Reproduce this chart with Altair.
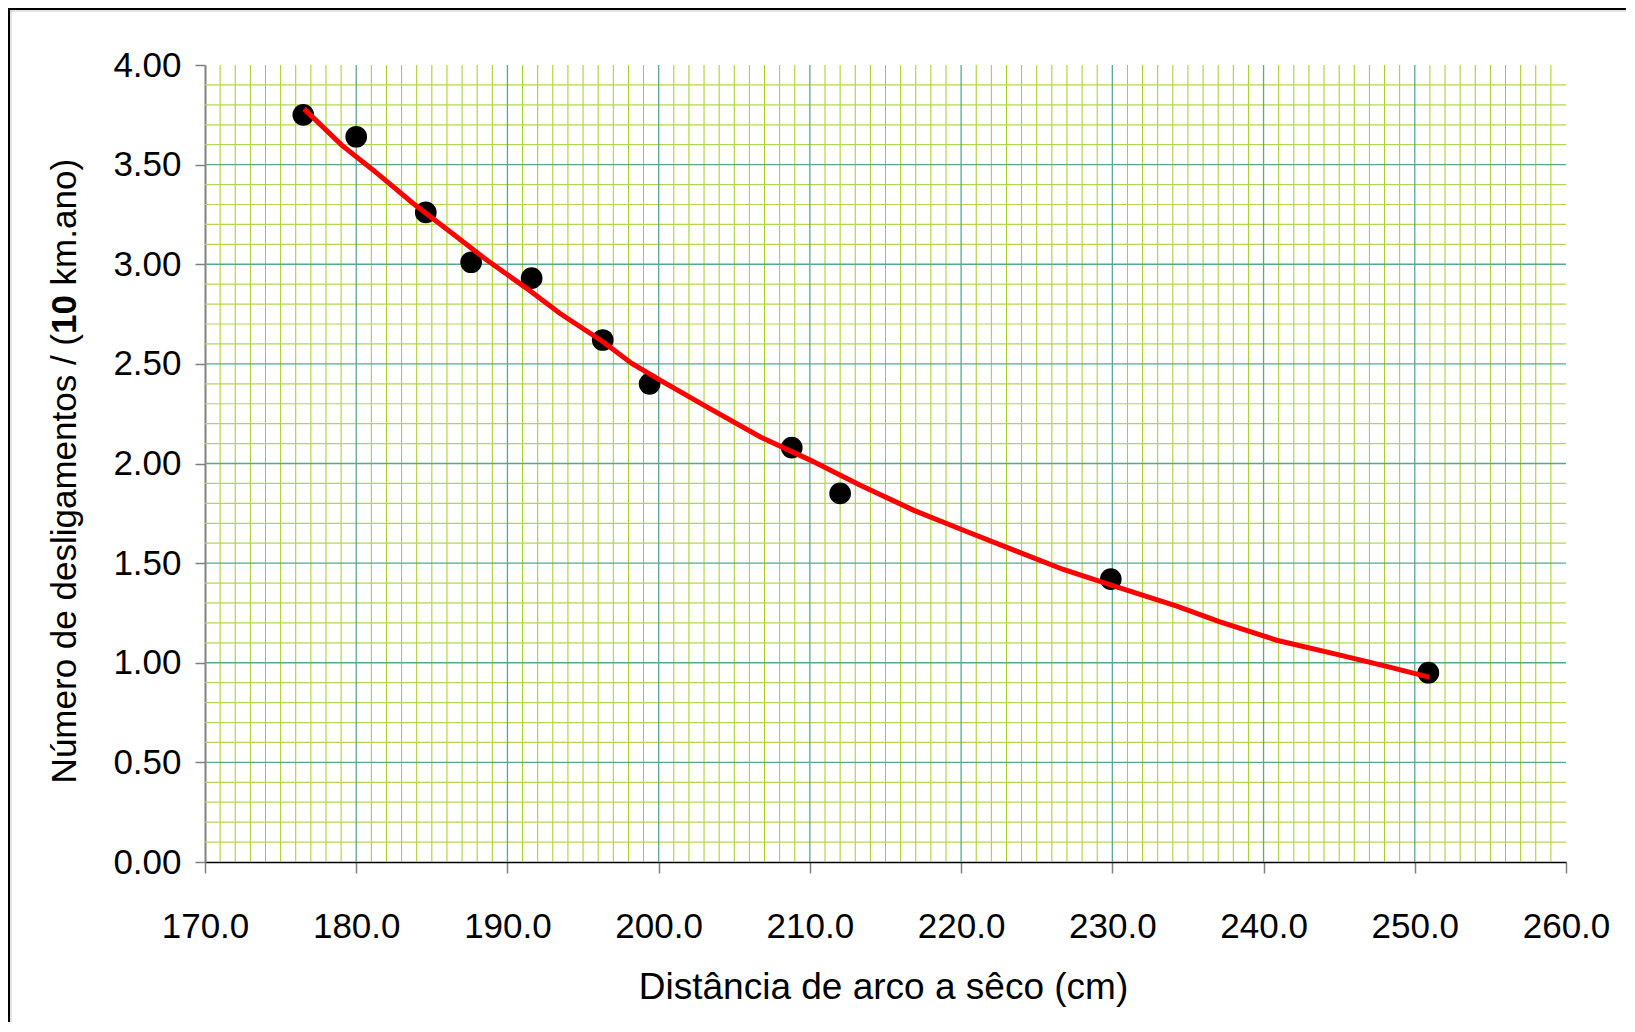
import altair as alt
import pandas as pd
import numpy as np

# Measured points
dist_cm = [176.5, 180.0, 184.6, 187.6, 191.6, 196.3, 199.4, 208.8, 212.0, 229.9, 250.9]
desligamentos = [3.75, 3.64, 3.26, 3.01, 2.93, 2.62, 2.40, 2.08, 1.85, 1.42, 0.95]

# Trend line
trend_x = [176.55, 179.04, 181.13, 183.77, 186.64, 188.63, 191.27, 193.48, 196.34, 198.22,
           200.09, 203.18, 206.70, 210.02, 213.33, 216.84, 220.15, 223.23, 226.76, 230.29,
           234.26, 237.12, 240.87, 245.06, 248.14, 250.95]
trend_y = [3.780, 3.598, 3.472, 3.305, 3.138, 3.021, 2.879, 2.753, 2.610, 2.502,
           2.418, 2.284, 2.134, 2.017, 1.891, 1.766, 1.665, 1.573, 1.468, 1.381,
           1.284, 1.205, 1.113, 1.038, 0.982, 0.928]

x_ticks = [170, 180, 190, 200, 210, 220, 230, 240, 250, 260]
y_ticks = [0.0, 0.5, 1.0, 1.5, 2.0, 2.5, 3.0, 3.5, 4.0]

x_title = "Distância de arco a sêco (cm)"
y_title_parts = ["Número de desligamentos / (", "10", "km.ano)"]

W, H = 1361, 797

pts = pd.DataFrame({"x": dist_cm, "y": desligamentos})
trend = pd.DataFrame({"x": trend_x, "y": trend_y})

vx_minor = pd.DataFrame({"x": [v for v in range(171, 260) if v % 10 != 0]})
vx_major = pd.DataFrame({"x": [v for v in range(180, 260, 10)]})
hy_minor = pd.DataFrame({"y": [round(i * 0.1, 1) for i in range(1, 40) if i % 5 != 0]})
hy_major = pd.DataFrame({"y": [round(i * 0.5, 1) for i in range(1, 8)]})

xscale = alt.Scale(domain=[170, 260], nice=False, zero=False)
yscale = alt.Scale(domain=[0, 4], nice=False, zero=True)

xaxis = alt.Axis(values=x_ticks, format=".1f", grid=False, labelFont="Liberation Sans",
                 labelFontSize=35, labelColor="black", labelPadding=36,
                 labelFlush=False, labelOverlap=False, labelBound=False,
                 tickSize=11, tickColor="#808080", tickWidth=1.5,
                 domainColor="black", domainWidth=1.5,
                 title=x_title, titleFont="Liberation Sans", titleFontSize=37,
                 titleFontWeight="normal", titleColor="black",
                 titleX=678, titleY=136, titleBaseline="alphabetic", titleAlign="center")
yaxis = alt.Axis(values=y_ticks, format=".2f", grid=False, labelFont="Liberation Sans",
                 labelFontSize=35, labelColor="black", labelPadding=14,
                 labelFlush=False, labelOverlap=False, labelBound=False,
                 tickSize=10, tickColor="#808080", tickWidth=1.5,
                 domainColor="#808080", domainWidth=2, title=None)

X = alt.X("x:Q", scale=xscale, axis=xaxis)
Y = alt.Y("y:Q", scale=yscale, axis=yaxis)

minor_col = "#a2cf1c"
major_col = "#5aa88c"

g1 = alt.Chart(vx_minor).mark_rule(color=minor_col, strokeWidth=1.0).encode(x=X)
g2 = alt.Chart(hy_minor).mark_rule(color="#b2d852", strokeWidth=1.2).encode(y=Y)
g3 = alt.Chart(vx_major).mark_rule(color=major_col, strokeWidth=1.3).encode(x=X)
g4 = alt.Chart(hy_major).mark_rule(color=major_col, strokeWidth=1.3).encode(y=Y)

dots = alt.Chart(pts).mark_circle(color="black", opacity=1, size=470).encode(x=X, y=Y)
line = alt.Chart(trend).mark_line(color="#ff0000", strokeWidth=5).encode(x=X, y=Y)

one = pd.DataFrame({"a": [0]})
fsz = 35
common = dict(font="Liberation Sans", fontSize=fsz, angle=270, baseline="middle", color="black")
t1 = alt.Chart(one).mark_text(align="right", **common).encode(
    x=alt.value(-140), y=alt.value(269), text=alt.value(y_title_parts[0]))
t2 = alt.Chart(one).mark_text(align="left", fontWeight="bold", **common).encode(
    x=alt.value(-140), y=alt.value(269), text=alt.value(y_title_parts[1]))
t3 = alt.Chart(one).mark_text(align="left", **common).encode(
    x=alt.value(-140), y=alt.value(220.4), text=alt.value(y_title_parts[2]))

frame_v = alt.Chart(one).mark_rule(color="black", strokeWidth=2).encode(
    x=alt.value(-196), y=alt.value(-57), y2=alt.value(960))
frame_h = alt.Chart(one).mark_rule(color="black", strokeWidth=2).encode(
    x=alt.value(-197), x2=alt.value(W + 60), y=alt.value(-56))
frame_v2 = alt.Chart(one).mark_rule(color="#c8c8c8", strokeWidth=1).encode(
    x=alt.value(-194), y=alt.value(-55), y2=alt.value(960))
frame_h2 = alt.Chart(one).mark_rule(color="#c8c8c8", strokeWidth=1).encode(
    x=alt.value(-195), x2=alt.value(W + 60), y=alt.value(-54))

chart = alt.layer(g1, g2, g3, g4, dots, line, t1, t2, t3,
                  frame_v, frame_h, frame_v2, frame_h2).properties(
    width=W, height=H,
    autosize=alt.AutoSizeParams(type="none"),
    padding={"left": 197, "top": 57, "right": 60, "bottom": 160},
    background="white",
).configure_view(stroke=None)

chart.save("out.html", embed_options={"renderer": "svg", "actions": False})
